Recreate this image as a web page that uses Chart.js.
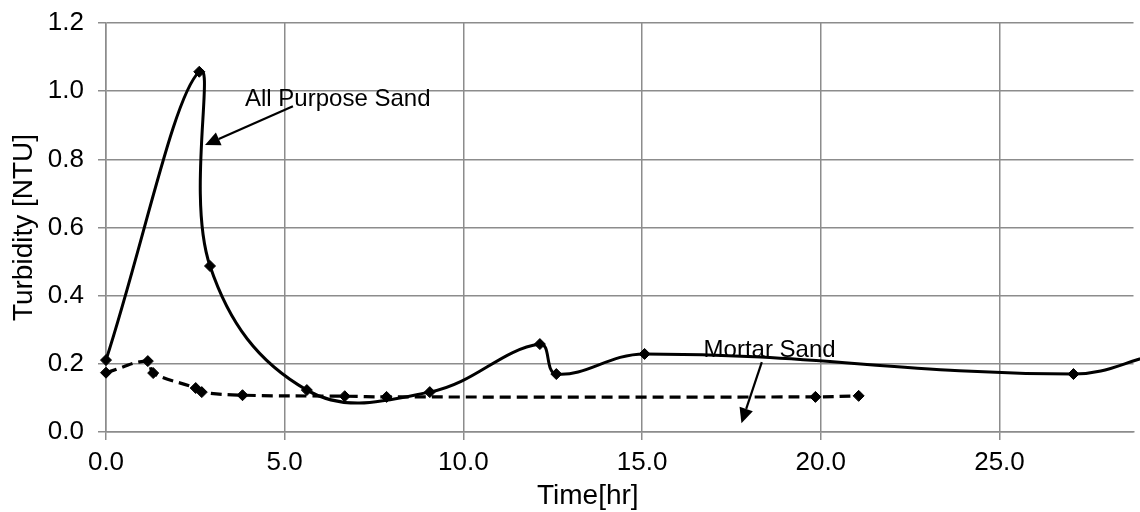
<!DOCTYPE html>
<html>
<head>
<meta charset="utf-8">
<script src="https://cdn.jsdelivr.net/npm/chart.js"></script>
<style>
  html, body { margin: 0; padding: 0; background: #fff; }
  #wrap { width: 1140px; height: 512px; }
</style>
</head>
<body>
<div id="wrap"><canvas id="chart" width="1140" height="512"></canvas></div>
<script>
// All Purpose Sand (solid line)
const apsTime = [0, 2.61, 2.91, 5.62, 9.06, 12.14, 12.6, 15.07, 27.07, 29.3];
const apsTurb = [0.211, 1.057, 0.487, 0.123, 0.117, 0.258, 0.17, 0.229, 0.17, 0.225];
// Mortar Sand (dashed line)
const msTime = [0, 1.17, 1.32, 2.51, 2.68, 3.82, 6.68, 7.85, 19.85, 21.06];
const msTurb = [0.174, 0.208, 0.173, 0.129, 0.117, 0.108, 0.105, 0.103, 0.103, 0.106];

const yTicks = [0, 0.2, 0.4, 0.6, 0.8, 1.0, 1.2];
const xTicks = [0, 5, 10, 15, 20, 25];

// callouts, in data units
const notes = [
    { text: "All Purpose Sand", x: 3.89, y: 0.956, from: [5.23, 0.956], to: [2.77, 0.842] },
    { text: "Mortar Sand", x: 16.72, y: 0.22, from: [18.35, 0.205], to: [17.78, 0.026] }
];
const xTitle = { text: "Time[hr]", x: 13.48 };

const toPoints = (xs, ys) => xs.map((x, i) => ({ x: x, y: ys[i] }));

const gridColor = "#8c8c8c";
const fontFam = "'Liberation Sans', Arial, sans-serif";

const notesPlugin = {
    id: "notes",
    afterDatasetsDraw(chart) {
        const ctx = chart.ctx;
        const xs = chart.scales.x;
        const ys = chart.scales.y;
        ctx.save();
        ctx.fillStyle = "#000";
        ctx.strokeStyle = "#000";
        ctx.font = "24px " + fontFam;
        ctx.textBaseline = "alphabetic";
        ctx.textAlign = "left";
        notes.forEach(n => {
            ctx.fillText(n.text, xs.getPixelForValue(n.x), ys.getPixelForValue(n.y));
            const x1 = xs.getPixelForValue(n.from[0]);
            const y1 = ys.getPixelForValue(n.from[1]);
            const x2 = xs.getPixelForValue(n.to[0]);
            const y2 = ys.getPixelForValue(n.to[1]);
            const ang = Math.atan2(y2 - y1, x2 - x1);
            const headLen = 15;
            const headW = 7;
            const bx = x2 - headLen * Math.cos(ang);
            const by = y2 - headLen * Math.sin(ang);
            ctx.lineWidth = 2.2;
            ctx.beginPath();
            ctx.moveTo(x1, y1);
            ctx.lineTo(bx, by);
            ctx.stroke();
            ctx.beginPath();
            ctx.moveTo(x2, y2);
            ctx.lineTo(bx - headW * Math.sin(ang), by + headW * Math.cos(ang));
            ctx.lineTo(bx + headW * Math.sin(ang), by - headW * Math.cos(ang));
            ctx.closePath();
            ctx.fill();
        });
        // x axis title, centred where the original chart had it
        ctx.font = "28px " + fontFam;
        ctx.textAlign = "center";
        ctx.textBaseline = "middle";
        ctx.fillText(xTitle.text, xs.getPixelForValue(xTitle.x), 496);
        ctx.restore();
    }
};

new Chart(document.getElementById("chart").getContext("2d"), {
    type: "scatter",
    data: {
        datasets: [
            {
                label: "All Purpose Sand",
                data: toPoints(apsTime, apsTurb),
                showLine: true,
                borderColor: "#000",
                backgroundColor: "#000",
                borderWidth: 3,
                tension: 0.4,
                pointStyle: "rectRot",
                pointRadius: 5.5,
                pointBorderWidth: 1,
                clip: false
            },
            {
                label: "Mortar Sand",
                data: toPoints(msTime, msTurb),
                showLine: true,
                borderColor: "#000",
                backgroundColor: "#000",
                borderWidth: 3.2,
                borderDash: [11, 6],
                tension: 0.4,
                pointStyle: "rectRot",
                pointRadius: 5.5,
                pointBorderWidth: 1,
                clip: false
            }
        ]
    },
    options: {
        responsive: false,
        animation: false,
        events: [],
        layout: { padding: { top: 23, right: 0, left: 0, bottom: 0 } },
        elements: { line: { capBezierPoints: false } },
        plugins: {
            legend: { display: false },
            tooltip: { enabled: false }
        },
        scales: {
            x: {
                type: "linear",
                min: 0,
                max: 28.75,
                afterBuildTicks: s => { s.ticks = xTicks.map(v => ({ value: v })); },
                afterFit: s => { s.height = 80; s.paddingLeft = 0; s.paddingRight = 0; },
                grid: { color: gridColor, lineWidth: 1.5, tickLength: 8, tickColor: gridColor },
                border: { color: gridColor, width: 1.5 },
                ticks: {
                    color: "#000",
                    font: { family: fontFam, size: 26 },
                    padding: 7,
                    maxRotation: 0,
                    callback: v => v.toFixed(1)
                },
                title: { display: false }
            },
            y: {
                min: 0,
                max: 1.2,
                afterBuildTicks: s => { s.ticks = yTicks.map(v => ({ value: v })); },
                afterFit: s => { s.width = 106; s.paddingTop = 0; s.paddingBottom = 0; },
                grid: { color: gridColor, lineWidth: 1.5, tickLength: 8, tickColor: gridColor },
                border: { color: gridColor, width: 1.5 },
                ticks: {
                    color: "#000",
                    font: { family: fontFam, size: 26 },
                    padding: 14,
                    callback: v => v.toFixed(1)
                },
                title: {
                    display: true,
                    text: "Turbidity [NTU]",
                    color: "#000",
                    font: { family: fontFam, size: 28, lineHeight: 1 },
                    padding: { top: 10, bottom: 0 }
                }
            }
        }
    },
    plugins: [notesPlugin]
});
</script>
</body>
</html>
